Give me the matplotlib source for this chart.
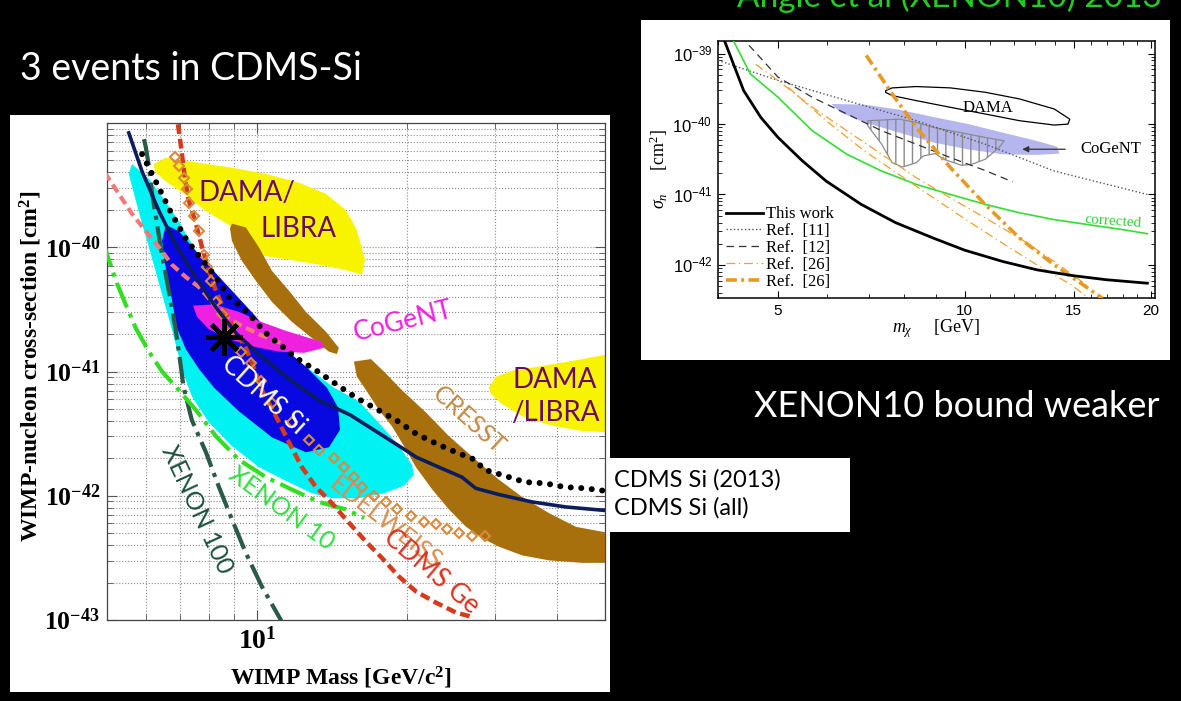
import numpy as np
import matplotlib.pyplot as plt
from matplotlib.patches import Rectangle, Polygon

plt.rcParams['mathtext.fontset'] = 'custom'
plt.rcParams['mathtext.rm'] = 'Liberation Serif'
plt.rcParams['mathtext.it'] = 'Liberation Serif:italic'
plt.rcParams['mathtext.bf'] = 'Liberation Serif:bold'
plt.rcParams['mathtext.sf'] = 'Liberation Sans'
plt.rcParams['hatch.color'] = '#8a8a8a'

# =============================================================================
# Left plot data : WIMP mass [GeV] and log10(cross-section [cm^2])
# =============================================================================
cdms_all_m = [5.53, 5.88, 6.36, 6.87, 7.53, 8.26, 9.12, 10.09, 11.6, 13.3, 15.4, 17.8,
              19.3, 20.9, 23.2, 25.8, 27.5, 30.6, 35.7, 41.7, 50.5]
cdms_all_e = [-39.08, -39.39, -39.71, -39.98, -40.24, -40.48, -40.70, -40.86, -41.06, -41.23,
              -41.35, -41.51, -41.60, -41.69, -41.77, -41.85, -41.94, -41.99, -42.05, -42.09, -42.12]

cdms13_m = [5.88, 6.30, 6.72, 7.17, 7.65, 8.20, 8.79, 9.33, 9.95, 10.42, 10.92, 11.43, 11.98,
            12.54, 13.14, 14.28, 15.81, 17.34, 19.01, 20.86, 22.9, 25.1, 27.4, 28.6, 31.5,
            34.5, 37.9, 41.5, 45.6, 49.8]
cdms13_e = [-39.25, -39.49, -39.72, -39.92, -40.07, -40.22, -40.40, -40.48, -40.60, -40.69,
            -40.76, -40.82, -40.89, -40.94, -40.99, -41.09, -41.21, -41.30, -41.39, -41.50,
            -41.58, -41.65, -41.71, -41.79, -41.84, -41.89, -41.90, -41.93, -41.94, -41.96]

cdmsge_m = [6.94, 7.04, 7.14, 7.27, 7.54, 7.76, 8.01, 8.27, 8.67, 9.07, 9.50, 9.86, 10.23,
            10.92, 11.6, 12.31, 13.14, 14.15, 15.09, 15.81, 16.56, 17.82, 19.28, 20.86,
            22.88, 25.1, 27.3]
cdmsge_e = [-39.01, -39.19, -39.39, -39.60, -39.81, -40.0, -40.19, -40.35, -40.54, -40.68,
            -40.81, -40.97, -41.15, -41.36, -41.57, -41.77, -41.93, -42.06, -42.19, -42.28,
            -42.37, -42.50, -42.65, -42.77, -42.86, -42.94, -42.98]

edelweiss_m = [6.84, 6.97, 7.14, 7.24, 7.30, 7.47, 7.65, 7.83, 7.94, 8.08, 8.27, 8.50, 8.87,
               9.29, 9.72, 10.2, 10.72, 11.75, 12.72, 13.32, 14.28, 14.95, 15.66, 16.25,
               17.18, 18.16, 19.10, 20.39, 21.64, 22.88, 24.07, 25.45, 27.02, 28.7]
edelweiss_e = [-39.27, -39.35, -39.44, -39.53, -39.64, -39.75, -39.87, -40.06, -40.16, -40.27,
               -40.44, -40.54, -40.68, -40.84, -40.93, -41.08, -41.25, -41.41, -41.55, -41.63,
               -41.70, -41.77, -41.85, -41.93, -42.0, -42.05, -42.11, -42.16, -42.21, -42.23,
               -42.27, -42.30, -42.32, -42.32]

salmon_m = [4.95, 5.28, 5.61, 5.98, 6.36, 6.75, 7.20, 7.65, 8.12, 8.39, 9.20, 10.09, 11.33]
salmon_e = [-39.40, -39.57, -39.73, -39.87, -40.0, -40.14, -40.24, -40.32, -40.44, -40.52,
            -40.62, -40.70, -40.78]

xe100_m = [5.93, 5.98, 6.07, 6.15, 6.27, 6.41, 6.56, 6.72, 6.88, 7.04, 7.12, 7.40, 7.90,
           8.39, 8.91, 9.50, 10.23, 11.17, 11.5]
xe100_e = [-39.13, -39.19, -39.35, -39.55, -39.76, -40.0, -40.22, -40.44, -40.68, -40.97,
           -41.12, -41.39, -41.65, -41.93, -42.19, -42.46, -42.73, -43.0, -43.1]

xe10_m = [4.9, 5.21, 5.45, 5.71, 6.07, 6.45, 6.97, 7.54, 8.27, 9.20, 10.42, 11.75, 13.32,
          15.09, 16.41]
xe10_e = [-39.95, -40.27, -40.46, -40.65, -40.84, -41.0, -41.15, -41.31, -41.52, -41.71,
          -41.85, -41.95, -42.05, -42.11, -42.18]

cyan_m = [5.61, 6.07, 6.50, 6.97, 7.47, 8.01, 8.58, 9.20, 10.09, 11.33, 12.72, 14.28, 16.02,
          17.82, 19.28, 20.48, 20.67, 19.73, 17.99, 16.02, 14.15, 12.89, 11.43, 10.09, 8.91,
          8.01, 7.40, 7.07, 6.75, 6.45, 6.07, 5.88, 5.69, 5.53]
cyan_e = [-39.33, -39.45, -39.61, -39.79, -40.0, -40.19, -40.35, -40.5, -40.66, -40.82,
          -40.98, -41.13, -41.24, -41.44, -41.60, -41.75, -41.83, -41.92, -41.98, -42.02,
          -42.02, -41.98, -41.88, -41.77, -41.60, -41.41, -41.20, -40.98, -40.66, -40.38,
          -40.0, -39.81, -39.60, -39.41]

blue_m = [6.56, 6.97, 7.65, 8.54, 9.86, 10.97, 12.60, 13.82, 14.55, 14.68, 13.95, 12.54,
          10.72, 9.20, 8.20, 7.65, 7.20, 6.91, 6.72, 6.54, 6.45]
blue_e = [-39.82, -39.87, -40.06, -40.27, -40.54, -40.76, -40.97, -41.13, -41.29, -41.47,
          -41.61, -41.65, -41.53, -41.32, -41.13, -40.98, -40.82, -40.65, -40.38, -40.14, -39.95]

cogent_m = [7.44, 8.20, 9.20, 10.19, 11.38, 12.72, 13.50, 13.63, 12.43, 11.07, 9.86, 8.79,
            8.01, 7.58]
cogent_e = [-40.47, -40.46, -40.52, -40.60, -40.67, -40.73, -40.76, -40.81, -40.85, -40.84,
            -40.80, -40.74, -40.66, -40.56]

dama1_m = [6.21, 6.56, 7.65, 8.91, 10.42, 12.14, 13.76, 15.09, 15.87, 16.48, 16.25, 14.95,
           13.32, 11.6, 10.33, 9.33, 8.79, 7.90, 7.20, 6.56, 6.24]
dama1_e = [-39.33, -39.28, -39.32, -39.36, -39.41, -39.48, -39.57, -39.70, -39.86, -40.10,
           -40.22, -40.18, -40.14, -40.10, -40.07, -39.95, -39.82, -39.71, -39.58, -39.47, -39.39]

dama2_m = [29.2, 30.3, 32.8, 36.8, 42.3, 51.0, 51.0, 45.0, 38.6, 34.1, 31.0, 29.5]
dama2_e = [-41.13, -41.04, -40.99, -40.96, -40.92, -40.86, -41.49, -41.48, -41.43, -41.36,
           -41.26, -41.18]

cresst1_m = [8.91, 9.50, 10.09, 10.72, 11.6, 12.54, 13.76, 14.61, 14.47, 13.95, 12.89, 11.75,
             10.72, 9.95, 9.33, 8.91, 8.83]
cresst1_e = [-39.81, -39.84, -40.0, -40.19, -40.35, -40.52, -40.68, -40.81, -40.86, -40.84,
             -40.73, -40.60, -40.44, -40.27, -40.11, -39.95, -39.85]

cresst2_m = [15.66, 16.94, 17.99, 19.55, 21.85, 24.3, 27.5, 30.6, 34.1, 38.6, 43.7, 51.0,
             51.0, 45.0, 38.6, 34.1, 30.6, 28.3, 26.3, 24.3, 22.5, 20.86, 19.73, 18.67,
             17.58, 16.63, 15.87]
cresst2_e = [-40.92, -40.90, -41.0, -41.15, -41.33, -41.52, -41.71, -41.87, -42.01, -42.14,
             -42.25, -42.30, -42.54, -42.54, -42.52, -42.48, -42.41, -42.34, -42.25, -42.11,
             -41.95, -41.77, -41.60, -41.44, -41.31, -41.16, -41.04]

best_fit = (8.6, -40.72)

# =============================================================================
# Right plot data (XENON10 reanalysis) : m_chi [GeV], log10(sigma_n [cm^2])
# =============================================================================
this_work_m = [4.05, 4.40, 4.69, 5.0, 5.47, 5.98, 6.81, 7.74, 8.91, 10.0, 11.51, 13.09,
               14.89, 16.92, 19.73]
this_work_e = [-38.70, -39.524, -39.905, -40.19, -40.52, -40.81, -41.14, -41.40, -41.62,
               -41.79, -41.95, -42.07, -42.15, -42.21, -42.26]

corrected_m = [4.17, 4.51, 5.0, 5.68, 6.46, 7.35, 8.36, 9.49, 10.80, 12.27, 13.96, 15.88,
               18.05, 19.73]
corrected_e = [-38.70, -39.286, -39.62, -40.095, -40.43, -40.667, -40.857, -41.0, -41.14,
               -41.26, -41.357, -41.43, -41.50, -41.557]

ref11_m = [4.0, 5.0, 6.46, 8.36, 10.80, 13.96, 19.73]
ref11_e = [-39.095, -39.38, -39.667, -39.952, -40.286, -40.667, -41.0]

ref12_m = [4.35, 5.0, 5.68, 6.46, 7.35, 8.36, 9.49, 10.80, 11.96]
ref12_e = [-38.75, -39.333, -39.62, -39.857, -40.095, -40.286, -40.476, -40.66, -40.82]

ref26a_m = [4.6, 5.0, 5.68, 6.46, 7.35, 8.36, 9.49, 10.80, 12.27, 13.96, 15.88]
ref26a_e = [-39.15, -39.381, -39.762, -40.095, -40.429, -40.762, -41.048, -41.333, -41.619,
            -41.952, -42.31]
ref26b_m = [5.19, 5.98, 6.89, 7.83, 8.91, 10.15, 11.51, 13.09, 14.89, 15.88]
ref26b_e = [-39.476, -39.952, -40.381, -40.714, -41.048, -41.381, -41.69, -42.0, -42.286,
            -42.476]

ref26_thick_m = [6.94, 7.64, 8.36, 9.49, 10.80, 12.27, 13.96, 16.71]
ref26_thick_e = [-39.024, -39.571, -40.048, -40.619, -41.143, -41.619, -42.0, -42.476]

dama_m = [7.46, 7.64, 8.36, 9.49, 10.80, 12.27, 13.96, 14.79, 14.69, 13.96, 12.27, 10.80,
          9.49, 8.36, 7.64, 7.46]
dama_e = [-39.524, -39.486, -39.467, -39.486, -39.548, -39.643, -39.786, -39.93, -40.0,
          -40.014, -39.952, -39.857, -39.762, -39.667, -39.595, -39.55]

cogent_band_m = [6.10, 6.89, 7.83, 8.91, 10.15, 11.51, 13.09, 14.10, 14.24, 13.09, 11.51,
                 10.15, 8.91, 7.83, 6.89, 6.30]
cogent_band_e = [-39.714, -39.724, -39.795, -39.90, -40.0, -40.12, -40.24, -40.32, -40.419,
                 -40.438, -40.429, -40.36, -40.262, -40.119, -39.976, -39.833]

hatch_m = [6.98, 7.35, 7.83, 8.36, 8.91, 9.49, 10.15, 10.80, 11.59, 11.37, 10.80, 10.27,
           9.89, 9.26, 8.97, 8.58, 8.36, 7.94, 7.64, 7.35, 6.98]
hatch_e = [-39.952, -39.943, -39.929, -39.976, -40.048, -40.095, -40.143, -40.19, -40.238,
           -40.333, -40.5, -40.571, -40.586, -40.5, -40.419, -40.452, -40.548, -40.61, -40.548,
           -40.286, -40.024]


def pts(m, e):
    return np.column_stack([m, 10.0 ** np.array(e)])


# =============================================================================
# Figure / slide background
# =============================================================================
fig = plt.figure(figsize=(11.81, 7.01), dpi=100, facecolor='black')
W, H = 1181.0, 701.0

for x0, y0, w, h in [(10, 692, 600, 577), (641, 360, 529, 340), (610, 532, 240, 74)]:
    fig.patches.append(Rectangle((x0 / W, 1 - y0 / H), w / W, h / H, transform=fig.transFigure,
                                 facecolor='white', edgecolor='none', zorder=-5))

fig.text(20 / W, 1 - 80 / H, '3 events in CDMS-Si', color='white', fontsize=27,
         family='Lato', va='baseline', ha='left')
fig.text(1162 / W, 1 - 7 / H, 'Angle et al (XENON10) 2013', color='#22cc22', fontsize=24,
         family='Lato', va='baseline', ha='right')
fig.text(1160 / W, 1 - 417 / H, 'XENON10 bound weaker', color='white', fontsize=26,
         family='Lato', va='baseline', ha='right')
fig.text(614 / W, 1 - 487 / H, 'CDMS Si (2013)', color='black', fontsize=17,
         family='Lato', va='baseline')
fig.text(614 / W, 1 - 515 / H, 'CDMS Si (all)', color='black', fontsize=17,
         family='Lato', va='baseline')

# =============================================================================
# Left plot
# =============================================================================
ax = fig.add_axes([107 / W, 1 - 620 / H, 498 / W, 497 / H])
ax.set_xscale('log')
ax.set_yscale('log')
ax.set_xlim(5, 50)
ax.set_ylim(1e-43, 1e-39)

ax.add_patch(Polygon(pts(cyan_m, cyan_e), closed=True, fc='#00f2f2', ec='none', zorder=1))
ax.add_patch(Polygon(pts(blue_m, blue_e), closed=True, fc='#0808e0', ec='none', zorder=2))
ax.add_patch(Polygon(pts(dama1_m, dama1_e), closed=True, fc='#f8f400', ec='none', zorder=2))
ax.add_patch(Polygon(pts(dama2_m, dama2_e), closed=True, fc='#f8f400', ec='none', zorder=2))
ax.add_patch(Polygon(pts(cresst1_m, cresst1_e), closed=True, fc='#a8700c', ec='none', zorder=3))
ax.add_patch(Polygon(pts(cresst2_m, cresst2_e), closed=True, fc='#a8700c', ec='none', zorder=3))
ax.add_patch(Polygon(pts(cogent_m, cogent_e), closed=True, fc='#f020e0', ec='none', zorder=3))

ax.plot(xe100_m, 10.0 ** np.array(xe100_e), color='#2a5a48', lw=3, ls='-.', zorder=4)
ax.plot(xe10_m, 10.0 ** np.array(xe10_e), color='#33dd22', lw=3, ls='-.', zorder=4)
ax.plot(salmon_m, 10.0 ** np.array(salmon_e), color='#f47878', lw=3, dashes=(2.2, 1.2), zorder=4)
ax.plot(cdmsge_m, 10.0 ** np.array(cdmsge_e), color='#d63a1c', lw=3.2, dashes=(2.2, 1.1), zorder=4)
ax.plot(edelweiss_m, 10.0 ** np.array(edelweiss_e), ls='none', marker='D', ms=5, mfc='none',
        mec='#d98a3c', mew=1.5, zorder=5)
ax.plot(cdms_all_m, 10.0 ** np.array(cdms_all_e), color='#0b1d5c', lw=2.6, zorder=6)
ax.plot(cdms13_m, 10.0 ** np.array(cdms13_e), color='black', lw=4.3, dashes=(0.01, 1.75),
        dash_capstyle='round', zorder=6)
ax.plot([best_fit[0]], [10.0 ** best_fit[1]], marker=(8, 2, 0), ms=26, mew=3.2, color='black',
        zorder=7)

txt = dict(family='Lato', ha='center', va='center', zorder=8)
ax.text(9.55, 10 ** -39.56, 'DAMA/', color='#6a0a62', fontsize=20, **txt)
ax.text(12.14, 10 ** -39.85, 'LIBRA', color='#6a0a62', fontsize=20, **txt)
ax.text(39.7, 10 ** -41.07, 'DAMA', color='#6a0a62', fontsize=20, **txt)
ax.text(39.7, 10 ** -41.33, '/LIBRA', color='#6a0a62', fontsize=20, **txt)
ax.text(19.7, 10 ** -40.6, 'CoGeNT', color='#f020e0', fontsize=19, rotation=14, **txt)
ax.text(26.7, 10 ** -41.39, 'CRESST', color='#c48a44', fontsize=18, rotation=-42, **txt)
ax.text(10.3, 10 ** -41.19, 'CDMS Si', color='white', fontsize=19, rotation=-42, **txt)
ax.text(11.22, 10 ** -42.10, 'XENON 10', color='#33dd44', fontsize=18, rotation=-36, **txt)
ax.text(7.58, 10 ** -42.11, 'XENON 100', color='#1d5040', fontsize=18, rotation=-65, **txt)
ax.text(18.16, 10 ** -42.22, 'EDELWEISS', color='#d89050', fontsize=18, rotation=-38, **txt)
ax.text(22.45, 10 ** -42.61, 'CDMS Ge', color='#dd3322', fontsize=19, rotation=-40, **txt)

ax.set_xticks([10])
ax.set_xticklabels([r'$\mathbf{10^{1}}$'], fontsize=20)
ax.set_yticks([1e-43, 1e-42, 1e-41, 1e-40])
ax.set_yticklabels([r'$\mathbf{10^{-43}}$', r'$\mathbf{10^{-42}}$', r'$\mathbf{10^{-41}}$',
                    r'$\mathbf{10^{-40}}$'], fontsize=18.5)
ax.xaxis.set_minor_formatter(plt.NullFormatter())
ax.yaxis.set_minor_formatter(plt.NullFormatter())
ax.tick_params(which='both', direction='in', top=True, right=True, color='#555555')
ax.tick_params(which='major', length=7, pad=5)
ax.tick_params(which='minor', length=4)
ax.grid(True, which='both', ls=':', color='#8a8a8a', lw=0.8)
ax.set_axisbelow(True)
for s in ax.spines.values():
    s.set_color('#444444')
    s.set_linewidth(0.9)
ax.set_xlabel(r'WIMP Mass [GeV/c$^{\mathbf{2}}$]', family='Liberation Serif', weight='bold',
              fontsize=17, va='center')
ax.xaxis.set_label_coords(0.47, -0.117)
ax.set_ylabel(r'WIMP-nucleon cross-section [cm$^{\mathbf{2}}$]', family='Liberation Serif',
              weight='bold', fontsize=17, va='center')
ax.yaxis.set_label_coords(-0.152, 0.51)

# =============================================================================
# Right plot
# =============================================================================
ax2 = fig.add_axes([718 / W, 1 - 298 / H, 437 / W, 257 / H])
ax2.set_xscale('log')
ax2.set_yscale('log')
ax2.set_xlim(4, 20.3)
ax2.set_ylim(10 ** -42.47, 10 ** -38.82)

ax2.add_patch(Polygon(pts(cogent_band_m, cogent_band_e), closed=True, fc='#b6b6ee', ec='none',
                      zorder=1))
ax2.add_patch(Polygon(pts(hatch_m, hatch_e), closed=True, fc='none', ec='#8a8a8a', lw=0.9,
                      hatch='||', zorder=2))
ax2.add_patch(Polygon(pts(dama_m, dama_e), closed=True, fc='none', ec='black', lw=0.9, zorder=3))

l1, = ax2.plot(this_work_m, 10.0 ** np.array(this_work_e), color='black', lw=2.0, zorder=5)
l2, = ax2.plot(ref11_m, 10.0 ** np.array(ref11_e), color='#555555', lw=1.0, ls=':', zorder=4)
l3, = ax2.plot(ref12_m, 10.0 ** np.array(ref12_e), color='#333333', lw=0.9, dashes=(6, 4), zorder=4)
ax2.plot(corrected_m, 10.0 ** np.array(corrected_e), color='#33dd33', lw=1.2, zorder=4)
l4, = ax2.plot(ref26a_m, 10.0 ** np.array(ref26a_e), color='#eea030', lw=0.9,
               dashes=(7, 3, 1, 3), zorder=4)
ax2.plot(ref26b_m, 10.0 ** np.array(ref26b_e), color='#eea030', lw=0.9, dashes=(7, 3, 1, 3),
         zorder=4)
l5, = ax2.plot(ref26_thick_m, 10.0 ** np.array(ref26_thick_e), color='#e89a20', lw=2.6,
               dashes=(3, 1.2, 0.8, 1.2), zorder=4)

ax2.annotate('', xy=(12.27, 10 ** -40.357), xytext=(14.69, 10 ** -40.357),
             arrowprops=dict(arrowstyle='-|>', color='#333333', lw=0.9, mutation_scale=9))
ax2.text(17.25, 10 ** -40.357, 'CoGeNT', family='Liberation Serif', fontsize=12,
         ha='center', va='center')
ax2.text(10.91, 10 ** -39.771, 'DAMA', family='Liberation Serif', fontsize=12,
         ha='center', va='center')
ax2.text(17.35, 10 ** -41.39, 'corrected', family='Liberation Serif', fontsize=11,
         color='#33cc33', ha='center', va='center', rotation=-4)

ax2.legend([l1, l2, l3, l4, l5], ['This work', 'Ref.  [11]', 'Ref.  [12]', 'Ref.  [26]',
                                  'Ref.  [26]'],
           loc='lower left', frameon=False, prop={'family': 'Liberation Serif', 'size': 12},
           handlelength=2.2, handletextpad=0.15, labelspacing=0.05, borderaxespad=0.2,
           borderpad=0.3)

ax2.set_xticks([5, 10, 15, 20])
ax2.set_xticklabels(['5', '10', '15', '20'], family='Liberation Sans', fontsize=11)
ax2.set_xticks([4, 6, 7, 8, 9, 11, 12, 13, 14, 16, 17, 18, 19], minor=True)
ax2.xaxis.set_minor_formatter(plt.NullFormatter())
ax2.yaxis.set_minor_formatter(plt.NullFormatter())
ax2.set_yticks([1e-42, 1e-41, 1e-40, 1e-39])
ax2.set_yticklabels([r'$\mathsf{10^{-42}}$', r'$\mathsf{10^{-41}}$', r'$\mathsf{10^{-40}}$',
                     r'$\mathsf{10^{-39}}$'], fontsize=12)
ax2.tick_params(which='both', direction='in', top=True, right=True)
ax2.tick_params(which='major', length=5, pad=4)
ax2.tick_params(which='minor', length=3)
for s in ax2.spines.values():
    s.set_linewidth(1.1)
ax2.set_xlabel(r'$m_\chi$     [GeV]', family='Liberation Serif', fontsize=13, labelpad=0)
ax2.set_ylabel(r'$\sigma_n$     [cm$^2$]', family='Liberation Serif', fontsize=13, labelpad=2)

fig.savefig('out.png', dpi=100, facecolor='black')
